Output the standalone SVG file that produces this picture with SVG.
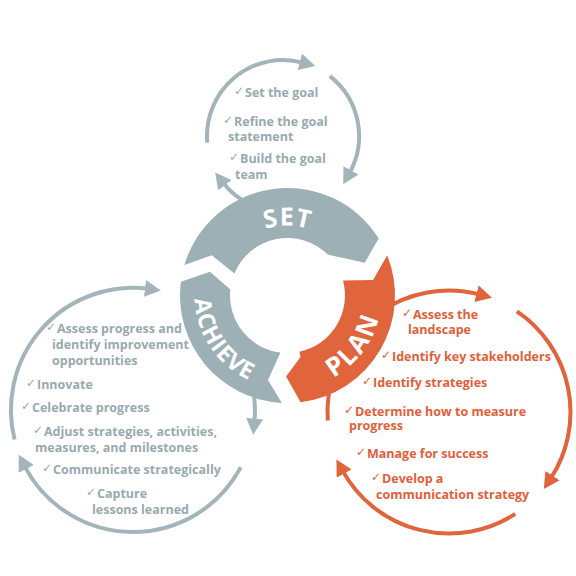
<svg xmlns="http://www.w3.org/2000/svg" width="576" height="576" viewBox="0 0 576 576">
<defs>
<style>
.g{fill:#9db0b5}
.o{fill:#e0643c}
.gl{fill:none;stroke:#a3b5ba;stroke-width:4}
.ol{fill:none;stroke:#e0643c;stroke-width:4}
.rl{fill:#fff;font-family:"Open Sans","DejaVu Sans",sans-serif;font-weight:700}
.t{font-family:"Open Sans","DejaVu Sans",sans-serif;font-weight:700;font-size:12.5px}
.tg{fill:#97aab0}
.to{fill:#e0603a}
.ck{font-family:"DejaVu Sans",sans-serif;font-weight:400;font-size:12px}
</style>
<marker id="ag" markerUnits="userSpaceOnUse" markerWidth="17" markerHeight="17" refX="3" refY="8.5" orient="auto"><path d="M0,0 L16,8.5 L0,17 Z" fill="#a3b5ba"/></marker>
<marker id="ao" markerUnits="userSpaceOnUse" markerWidth="17" markerHeight="17" refX="3" refY="8.5" orient="auto"><path d="M0,0 L16,8.5 L0,17 Z" fill="#e0643c"/></marker>
<path id="pSet" d="M221.7,271.6 A70,70 0 0 1 353.3,271.6"/>
<path id="pAch" d="M200.7,262.2 A93,93 0 0 0 285.9,388.5"/>
<path id="pPlan" d="M284.2,389.4 A94,94 0 0 0 376.9,266.5"/>
</defs>
<g id="connectors">
<path class="gl" marker-end="url(#ag)" d="M250.9,204.9 A76,76 0 0 1 223.1,182.8"/>
<path class="gl" marker-end="url(#ag)" d="M207.3,142.6 A76,76 0 0 1 302.7,62.6"/>
<path class="gl" marker-end="url(#ag)" d="M329.8,76.1 A76,76 0 0 1 349.5,173"/>
<path class="gl" marker-end="url(#ag)" d="M247.6,368.3 A122,122 0 0 1 254.4,421.7"/>
<path class="gl" marker-end="url(#ag)" d="M240.7,467.3 A122,122 0 0 1 24.8,466.3"/>
<path class="gl" marker-end="url(#ag)" d="M14.6,439.5 A122,122 0 0 1 148,288.8"/>
<path class="ol" marker-end="url(#ao)" d="M379.3,312.5 A121.5,121.5 0 0 1 479.4,294.4"/>
<path class="ol" marker-end="url(#ao)" d="M516.9,311.3 A121.5,121.5 0 0 1 550.9,478.2"/>
<path class="ol" marker-end="url(#ao)" d="M515.2,513.9 A121.5,121.5 0 0 1 342.7,470.9"/>
<path class="ol" d="M327.8,420.5 A121.5,121.5 0 0 1 334.8,370.4"/>
</g>
<g id="set">
<path class="g" d="M184.4,265 A107.5,107.5 0 0 1 378.7,238.5 L364.8,262.7 L328.2,254.8 A57.5,57.5 0 0 0 234.4,273.5 L211.8,255.3 Z"/>
<text class="rl" font-size="25" letter-spacing="1" text-anchor="middle"><textPath href="#pSet" startOffset="50%">SET</textPath></text>
</g>
<g id="plan">
<path class="o" d="M387.2,255.2 A107.5,107.5 0 0 1 300.6,402.2 L286.1,376.5 L300.5,357 L299.5,351.7 A57.5,57.5 0 0 0 343,280.6 L373.1,279.9 Z"/>
<text class="rl" font-size="26" letter-spacing="2" text-anchor="middle"><textPath href="#pPlan" startOffset="50%">PLAN</textPath></text>
</g>
<g id="achieve">
<path class="g" d="M281.9,402.9 A107.5,107.5 0 0 1 180.9,281.8 L210,271.8 L230.3,289.5 A57.5,57.5 0 0 0 280.5,352.6 L268,380 Z"/>
<text class="rl" font-size="23" letter-spacing="1" text-anchor="middle"><textPath href="#pAch" startOffset="50%">ACHIEVE</textPath></text>
</g>
<g id="set-tasks" class="t tg">
<text class="ck" x="234" y="95">✓</text><text x="245" y="97">Set the goal</text>
<text class="ck" x="223" y="124">✓</text><text x="234" y="126">Refine the goal</text>
<text x="228" y="141">statement</text>
<text class="ck" x="229" y="161">✓</text><text x="240" y="163">Build the goal</text>
<text x="235" y="179">team</text>
</g>
<g id="achieve-tasks" class="t tg">
<text class="ck" x="46" y="331">✓</text><text x="57" y="333">Assess progress and</text>
<text x="52" y="349">identify improvement</text>
<text x="52" y="365">opportunities</text>
<text class="ck" x="26" y="387">✓</text><text x="37" y="389">Innovate</text>
<text class="ck" x="21" y="410">✓</text><text x="32" y="412">Celebrate progress</text>
<text class="ck" x="33" y="434">✓</text><text x="44" y="436">Adjust strategies, activities,</text>
<text x="35" y="452">measures, and milestones</text>
<text class="ck" x="42" y="472">✓</text><text x="53" y="474">Communicate strategically</text>
<text class="ck" x="86" y="496">✓</text><text x="97" y="498">Capture</text>
<text x="92" y="514">lessons learned</text>
</g>
<g id="plan-tasks" class="t to">
<text class="ck" x="402" y="317">✓</text><text x="413" y="319">Assess the</text>
<text x="408" y="334">landscape</text>
<text class="ck" x="381" y="359">✓</text><text x="392" y="361">Identify key stakeholders</text>
<text class="ck" x="362" y="385">✓</text><text x="373" y="387">Identify strategies</text>
<text class="ck" x="344" y="414">✓</text><text x="355" y="416">Determine how to measure</text>
<text x="349" y="430">progress</text>
<text class="ck" x="356" y="456">✓</text><text x="367" y="458">Manage for success</text>
<text class="ck" x="371" y="481">✓</text><text x="382" y="483">Develop a</text>
<text x="376" y="499">communication strategy</text>
</g>
</svg>
